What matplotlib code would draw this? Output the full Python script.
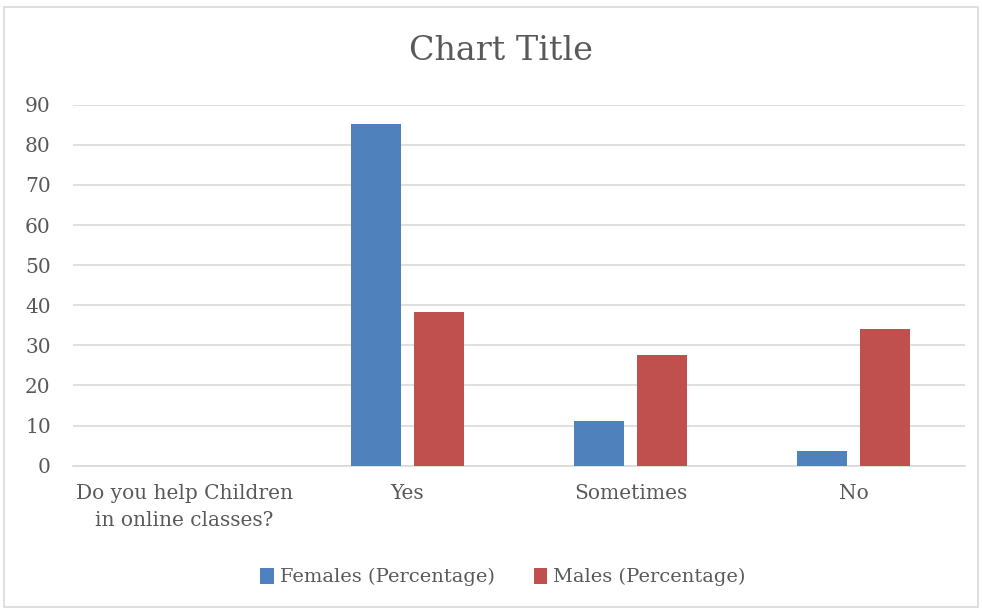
import matplotlib
matplotlib.use('Agg')
import matplotlib.pyplot as plt
import numpy as np
from matplotlib.patches import Rectangle

categories = ["Do you help Children\nin online classes?", "Yes", "Sometimes", "No"]
females = [np.nan, 85.1, 11.1, 3.7]
males = [np.nan, 38.3, 27.7, 34.0]
series_names = ["Females (Percentage)", "Males (Percentage)"]

plt.rcParams['font.family'] = ['DejaVu Serif']
grey = '#595959'

fig = plt.figure(figsize=(9.82, 6.10), dpi=100)
fig.patches.append(Rectangle((4/982, 3/610), 974/982, 600/610, transform=fig.transFigure,
                             fill=False, edgecolor='#D9D9D9', linewidth=1.2))

ax = fig.add_axes([73/982, 1 - 465.7/610, 892/982, 361/610])
x = np.arange(len(categories))
w = 0.224
ax.bar(x - 0.143, females, w, color='#4F81BD', label=series_names[0], zorder=3)
ax.bar(x + 0.143, males, w, color='#C0504D', label=series_names[1], zorder=3)

ax.set_xlim(-0.5, len(categories) - 0.5)
ax.set_ylim(0, 90)
ax.set_yticks(range(0, 91, 10))
ax.set_xticks(x)
ax.set_xticklabels(categories, linespacing=1.55)
ax.yaxis.grid(True, color='#D9D9D9', linewidth=1.2, zorder=0)
ax.tick_params(axis='y', length=0, pad=16, labelsize=14.5, labelcolor=grey)
ax.tick_params(axis='x', length=0, pad=13, labelsize=14.5, labelcolor=grey)
for s in ['top', 'right', 'left']:
    ax.spines[s].set_visible(False)
ax.spines['bottom'].set_color('#D9D9D9')
ax.spines['bottom'].set_linewidth(1.2)

fig.text(501/982, 1 - 51/610, 'Chart Title', ha='center', va='center', fontsize=24, color=grey)

leg = fig.legend(loc='center', bbox_to_anchor=(503/982, 1 - 577/610), ncol=2, frameon=False,
                 fontsize=14, handlelength=0.7, handleheight=0.9, handletextpad=0.3,
                 columnspacing=2.0)
for t in leg.get_texts():
    t.set_color(grey)

fig.savefig('out.png', dpi=100, facecolor='white')
